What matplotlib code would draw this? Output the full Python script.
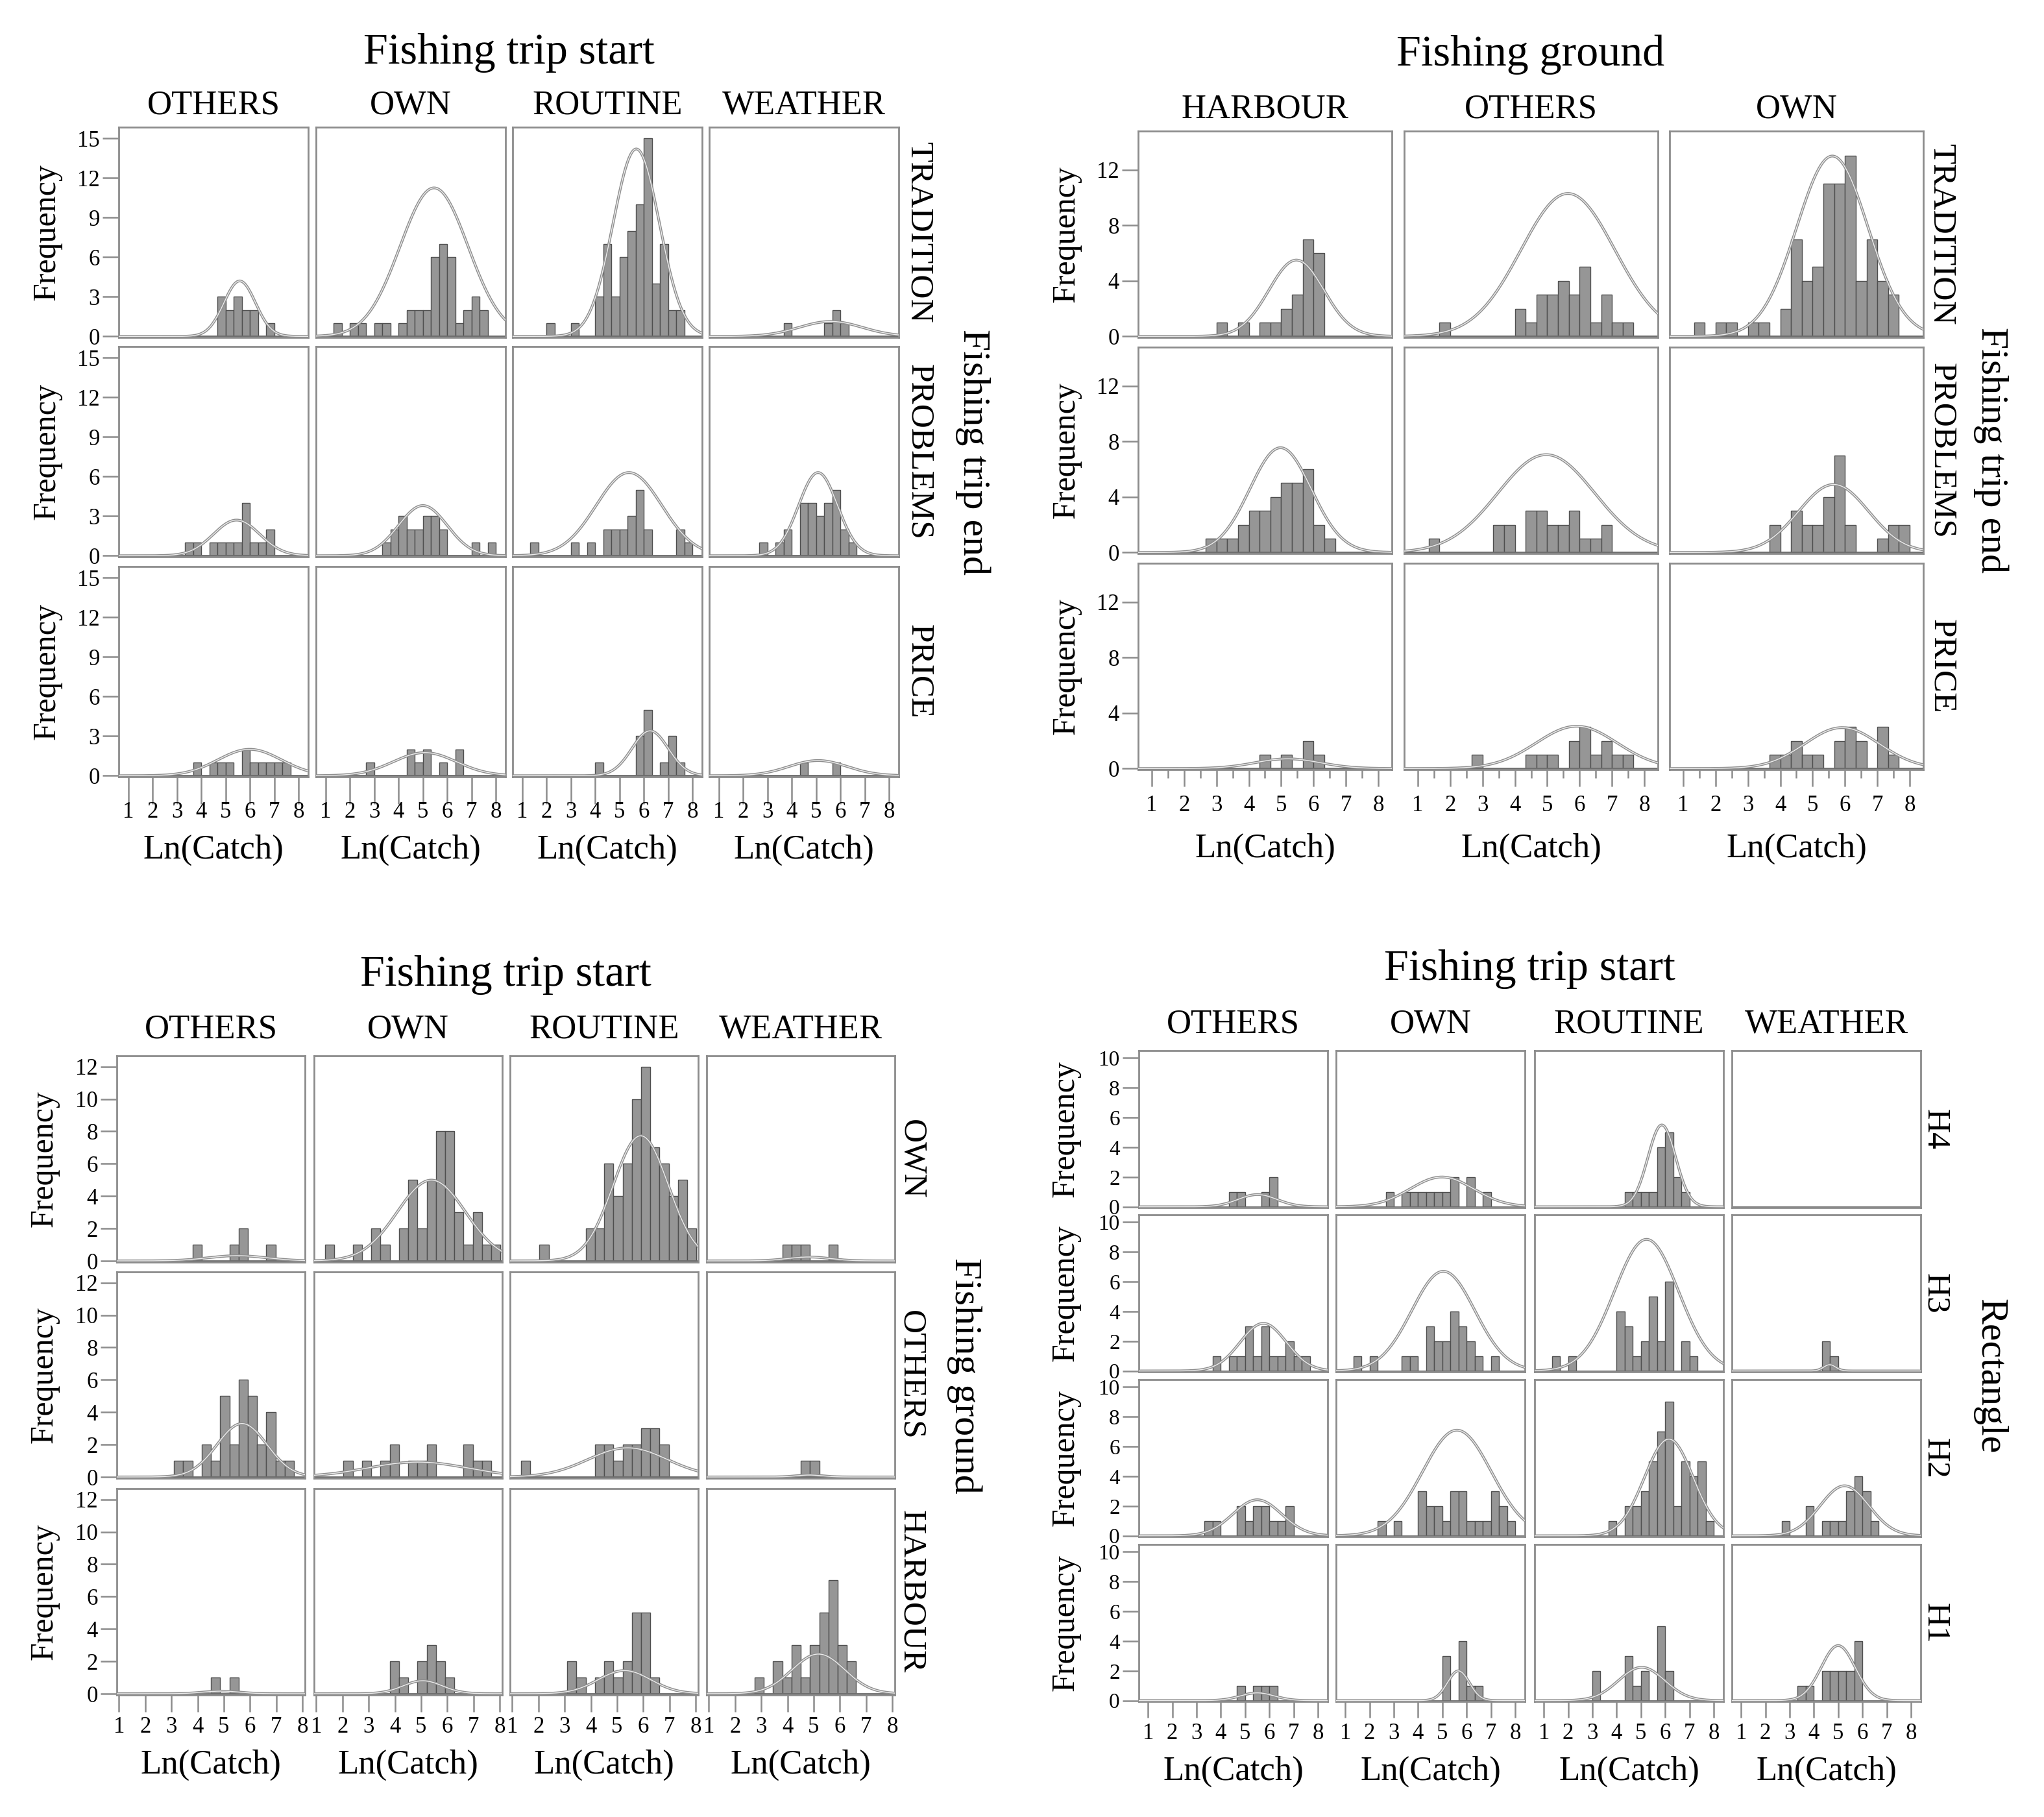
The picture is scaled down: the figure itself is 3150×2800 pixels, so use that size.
import numpy as np
import matplotlib
matplotlib.use('Agg')
import matplotlib.pyplot as plt

plt.rcParams['font.family'] = ['Liberation Serif', 'DejaVu Serif']

W, H = 3150, 2800

# bin grids: blocks a, b, d use bins of 1/3 from 4/3 to 8; block c has its own
third_edges = np.arange(4, 25) / 3.0
c_edges = 1.338 + 0.352 * np.arange(20)

# ---- block a: Fishing trip start (cols) x Fishing trip end (rows)
a_cols = ['OTHERS', 'OWN', 'ROUTINE', 'WEATHER']
a_rows = ['TRADITION', 'PROBLEMS', 'PRICE']
a_counts = [
    [[0,0,0,0,0,0,0,0,0,0,3,2,3,2,2,0,1,0,0,0],
     [1,0,1,1,0,1,1,0,1,2,2,2,6,7,6,1,2,3,2,0],
     [0,0,1,0,0,1,0,0,3,7,3,6,8,10,15,4,7,2,2,0],
     [0,0,0,0,0,0,0,1,0,0,0,0,1,2,1,0,0,0,0,0]],
    [[0,0,0,0,0,0,1,1,0,1,1,1,1,4,1,1,2,0,0,0],
     [0,0,0,0,0,0,1,2,3,2,2,3,3,2,0,0,0,1,0,1],
     [1,0,0,0,0,1,0,1,0,2,2,2,3,5,2,0,0,0,2,1],
     [0,0,0,0,1,0,1,2,0,4,4,3,4,5,2,1,0,0,0,0]],
    [[0,0,0,0,0,0,0,1,0,1,1,1,0,2,1,1,1,1,1,0],
     [0,0,0,0,1,0,0,0,0,2,1,2,0,1,0,2,0,0,0,0],
     [0,0,0,0,0,0,0,0,1,0,0,0,0,3,5,0,1,3,1,0],
     [0,0,0,0,0,0,0,0,0,1,0,0,0,1,0,0,0,0,0,0]],
]
# fitted normal curves: (mean, sd, peak)
a_curves = [
    [(5.58, 0.65, 4.2), (5.46, 1.4, 11.25), (5.69, 0.95, 14.2), (5.6, 1.3, 1.13)],
    [(5.45, 0.95, 2.7), (5.0, 1.0, 3.8), (5.39, 1.35, 6.3), (5.08, 0.8, 6.3)],
    [(5.99, 1.3, 2.0), (5.08, 1.3, 1.75), (6.26, 0.75, 3.4), (5.08, 1.2, 1.15)],
]

# ---- block b: Fishing ground (cols) x Fishing trip end (rows)
b_cols = ['HARBOUR', 'OTHERS', 'OWN']
b_rows = ['TRADITION', 'PROBLEMS', 'PRICE']
b_counts = [
    [[0,0,0,0,0,1,0,1,0,1,1,2,3,7,6,0,0,0,0,0],
     [0,1,0,0,0,0,0,0,2,1,3,3,4,3,5,1,3,1,1,0],
     [1,0,1,1,0,1,1,0,2,7,4,5,11,11,13,4,7,4,3,0]],
    [[0,0,0,0,1,1,1,2,3,3,4,5,5,6,2,1,0,0,0,0],
     [1,0,0,0,0,0,2,2,0,3,3,2,2,3,1,1,2,0,0,0],
     [0,0,0,0,0,0,0,2,0,3,2,2,4,7,2,0,0,1,2,2]],
    [[0,0,0,0,0,0,0,0,0,1,0,1,0,2,1,0,0,0,0,0],
     [0,0,0,0,1,0,0,0,0,1,1,1,0,2,3,1,2,1,1,0],
     [0,0,0,0,0,0,0,1,1,2,1,1,0,2,3,2,0,3,1,0]],
]
b_curves = [
    [(5.47, 0.85, 5.5), (5.64, 1.45, 10.3), (5.61, 1.1, 13.0)],
    [(4.98, 0.95, 7.55), (4.97, 1.5, 7.05), (5.65, 1.08, 4.9)],
    [(5.2, 1.0, 0.7), (5.91, 1.25, 3.05), (5.91, 1.15, 2.95)],
]

# ---- block c: Fishing trip start (cols) x Fishing ground (rows)
c_cols = ['OTHERS', 'OWN', 'ROUTINE', 'WEATHER']
c_rows = ['OWN', 'OTHERS', 'HARBOUR']
c_counts = [
    [[0,0,0,0,0,0,0,1,0,0,0,1,2,0,0,1,0,0,0],
     [1,0,0,1,0,2,1,0,2,5,2,5,8,8,3,1,3,1,1],
     [0,0,1,0,0,0,0,2,2,6,4,6,10,12,7,6,4,5,2],
     [0,0,0,0,0,0,0,1,1,1,0,0,1,0,0,0,0,0,0]],
    [[0,0,0,0,0,1,1,0,2,1,5,2,6,5,2,4,1,1,0],
     [0,0,1,0,1,0,1,2,0,1,1,2,0,0,0,2,1,1,0],
     [1,0,0,0,0,0,0,0,2,2,1,2,2,3,3,2,0,0,0],
     [0,0,0,0,0,0,0,0,0,1,1,0,0,0,0,0,0,0,0]],
    [[0,0,0,0,0,0,0,0,0,1,0,1,0,0,0,0,0,0,0],
     [0,0,0,0,0,0,0,2,1,0,2,3,2,1,0,0,0,0,0],
     [0,0,0,0,0,2,1,0,1,2,1,2,5,5,1,0,0,0,0],
     [0,0,0,0,1,0,2,1,3,1,3,5,7,3,2,0,0,0,0]],
]
c_curves = [
    [(5.51, 1.1, 0.32), (5.39, 1.3, 4.99), (5.9, 1.05, 7.73), (4.81, 0.8, 0.24)],
    [(5.69, 0.95, 3.3), (4.87, 1.9, 0.92), (5.4, 1.5, 1.8), (4.83, 0.5, 0.12)],
    [(4.9, 0.7, 0.16), (5.06, 0.75, 0.8), (5.28, 1.0, 1.43), (5.18, 1.0, 2.45)],
]

# ---- block d: Fishing trip start (cols) x Rectangle (rows)
d_cols = ['OTHERS', 'OWN', 'ROUTINE', 'WEATHER']
d_rows = ['H4', 'H3', 'H2', 'H1']
d_counts = [
    [[0,0,0,0,0,0,0,0,0,1,1,0,0,1,2,0,0,0,0,0],
     [0,0,0,0,1,0,1,1,1,1,1,1,2,0,2,0,1,0,0,0],
     [0,0,0,0,0,0,0,0,0,1,1,1,1,4,5,2,1,0,0,0],
     [0,0,0,0,0,0,0,0,0,0,0,0,0,0,0,0,0,0,0,0]],
    [[0,0,0,0,0,0,0,1,0,1,1,3,1,3,1,1,2,1,1,0],
     [1,0,1,0,0,0,1,1,0,3,2,2,4,3,2,1,0,1,0,0],
     [1,0,1,0,0,0,0,0,4,3,1,2,5,2,6,0,2,1,0,0],
     [0,0,0,0,0,0,0,0,0,2,1,0,0,0,0,0,0,0,0,0]],
    [[0,0,0,0,0,0,1,1,0,0,2,1,2,2,1,1,2,0,0,0],
     [0,0,0,1,0,1,0,0,3,2,2,1,3,3,1,1,1,3,2,1],
     [0,0,0,0,0,0,0,1,0,2,2,3,5,7,9,2,5,4,5,1],
     [0,0,0,0,1,0,0,2,0,1,1,1,3,4,3,1,0,0,0,0]],
    [[0,0,0,0,0,0,0,0,0,0,1,0,1,1,1,0,0,0,0,0],
     [0,0,0,0,0,0,0,0,0,0,0,3,0,4,1,1,0,0,0,0],
     [0,0,0,0,0,2,0,0,0,3,1,2,0,5,2,0,0,0,0,0],
     [0,0,0,0,0,0,1,1,0,2,2,2,2,4,0,0,0,0,0,0]],
]
d_curves = [
    [(5.51, 0.8, 0.82), (4.98, 1.3, 2.0), (5.86, 0.57, 5.5), None],
    [(5.75, 0.95, 3.2), (5.04, 1.3, 6.7), (5.23, 1.32, 8.85), (4.65, 0.25, 0.42)],
    [(5.5, 1.0, 2.42), (5.6, 1.42, 7.1), (6.15, 1.0, 6.5), (5.26, 1.0, 3.36)],
    [(5.5, 0.7, 0.52), (5.66, 0.45, 2.0), (5.03, 0.95, 2.24), (5.0, 0.7, 3.7)],
]

FRAME = '#8c8c8c'
BAR_FILL = '#969696'
BAR_EDGE = '#4f4f4f'


def ftext(fig, x, y, s, **kw):
    fig.text(x / W, 1 - y / H, s, ha='center', va='center', **kw)


def draw_block(fig, counts, curves, edges, rows, cols, lefts, tops, pw, ph,
               xlim, ylim, yticks, title, title_y, head_y, side, side_x, row_x,
               freq_x, tick_y, xlab_y, xt_len, minor=False, ytick_size=12.5):
    bw = edges[1] - edges[0]
    xs = np.linspace(xlim[0], xlim[1], 300)
    for r, rname in enumerate(rows):
        for c, cname in enumerate(cols):
            x0, y0 = lefts[c], tops[r]
            ax = fig.add_axes([x0 / W, 1 - (y0 + ph) / H, pw / W, ph / H])
            cnt = np.asarray(counts[r][c], float)
            keep = cnt > 0
            ax.bar(edges[:len(cnt)][keep], cnt[keep], width=bw, align='edge',
                   color=BAR_FILL, edgecolor=BAR_EDGE, linewidth=0.5, zorder=2)
            ax.axhline(0, color='#6e6e6e', lw=1.0, zorder=2.5)
            if curves[r][c] is not None:
                mu, sd, pk = curves[r][c]
                ys = pk * np.exp(-0.5 * ((xs - mu) / sd) ** 2)
                ax.plot(xs, ys, color='#8e8e8e', lw=1.5, zorder=3)
                ax.plot(xs, ys, color='#ececec', lw=0.5, zorder=4)
            ax.set_xlim(*xlim)
            ax.set_ylim(*ylim)
            ax.set_xticks(range(1, 9))
            ax.set_yticks(yticks)
            if minor:
                ax.set_xticks(np.arange(1.5, 8.5, 1.0), minor=True)
            for sp in ax.spines.values():
                sp.set_color(FRAME)
                sp.set_linewidth(1.0)
            first, last = c == 0, r == len(rows) - 1
            ax.tick_params(axis='y', which='both', left=first, labelleft=first,
                           length=9, width=0.9, color=FRAME, pad=1.5,
                           labelsize=ytick_size)
            ax.tick_params(axis='x', which='major', bottom=last,
                           labelbottom=False, length=xt_len, width=0.9,
                           color=FRAME)
            ax.tick_params(axis='x', which='minor', bottom=last and minor,
                           length=xt_len * 0.5, width=0.9, color=FRAME)
            if last:
                for v in range(1, 9):
                    xp = x0 + (v - xlim[0]) / (xlim[1] - xlim[0]) * pw
                    ftext(fig, xp, tick_y, str(v), fontsize=12.5)
                ftext(fig, x0 + pw / 2, xlab_y, 'Ln(Catch)', fontsize=19)
            if first:
                ftext(fig, freq_x, y0 + ph / 2, 'Frequency', fontsize=18,
                      rotation=90)
            if r == 0:
                ftext(fig, x0 + pw / 2, head_y, cname, fontsize=19)
        ftext(fig, row_x, tops[r] + ph / 2, rname, fontsize=18.5, rotation=-90)
    ftext(fig, (lefts[0] + lefts[-1] + pw) / 2, title_y, title, fontsize=24.5)
    ftext(fig, side_x, (tops[0] + tops[-1] + ph) / 2, side, fontsize=21.5,
          rotation=-90)


fig = plt.figure(figsize=(W / 200, H / 200), dpi=200)

draw_block(fig, a_counts, a_curves, third_edges, a_rows, a_cols,
           lefts=[183, 487, 790, 1093], tops=[196, 534, 873], pw=292, ph=324,
           xlim=(0.6, 8.4), ylim=(-0.08, 15.85), yticks=range(0, 16, 3),
           title='Fishing trip start', title_y=82, head_y=162,
           side='Fishing trip end', side_x=1499, row_x=1416, freq_x=72,
           tick_y=1251, xlab_y=1310, xt_len=15)

draw_block(fig, b_counts, b_curves, third_edges, b_rows, b_cols,
           lefts=[1754, 2164, 2573], tops=[202, 535, 868], pw=391, ph=318,
           xlim=(0.58, 8.42), ylim=(-0.08, 14.8), yticks=range(0, 13, 4),
           title='Fishing ground', title_y=84, head_y=168,
           side='Fishing trip end', side_x=3068, row_x=2992, freq_x=1643,
           tick_y=1241, xlab_y=1308, xt_len=9.5, minor=True)

draw_block(fig, c_counts, c_curves, c_edges, c_rows, c_cols,
           lefts=[180, 484, 786, 1089], tops=[1627, 1960, 2294], pw=290, ph=318,
           xlim=(0.92, 8.09), ylim=(-0.08, 12.67), yticks=range(0, 13, 2),
           title='Fishing trip start', title_y=1502, head_y=1586,
           side='Fishing ground', side_x=1486, row_x=1404, freq_x=68,
           tick_y=2661, xlab_y=2720, xt_len=9.5)

draw_block(fig, d_counts, d_curves, third_edges, d_rows, d_cols,
           lefts=[1755, 2059, 2365, 2669], tops=[1619, 1872, 2126, 2380],
           pw=291, ph=242,
           xlim=(0.62, 8.4), ylim=(-0.06, 10.5), yticks=range(0, 11, 2),
           title='Fishing trip start', title_y=1494, head_y=1578,
           side='Rectangle', side_x=3066, row_x=2982, freq_x=1642,
           tick_y=2671, xlab_y=2730, xt_len=9, ytick_size=12)

fig.savefig('out.png', dpi=200, facecolor='white')
